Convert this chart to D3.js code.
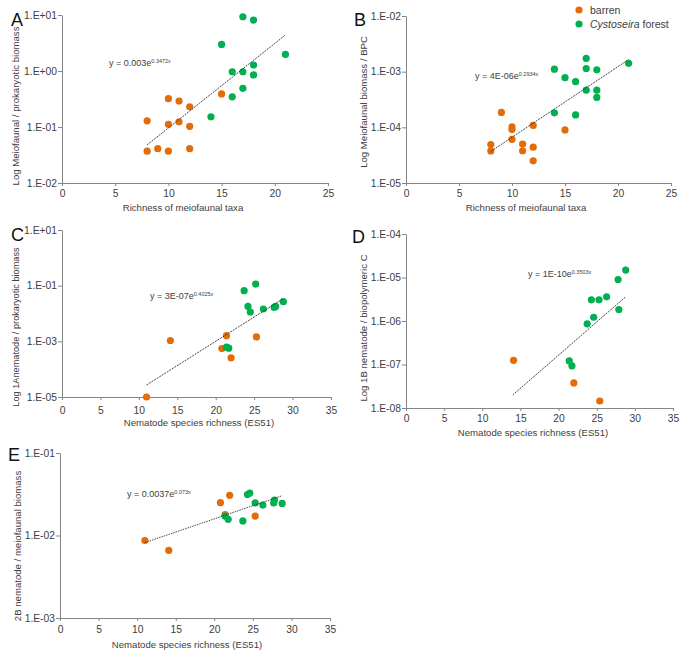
<!DOCTYPE html>
<html><head><meta charset="utf-8">
<script src="https://cdn.jsdelivr.net/npm/d3@7"></script>
<style>
body{margin:0;background:#fff;}
svg text{font-family:"Liberation Sans",Arial,sans-serif;fill:#404040;}
</style></head>
<body><svg id="c" width="685" height="652"></svg>
<script>
// ---------- DATA ----------
const seriesNames = ["barren", "Cystoseira forest"];

const xTicksAB = [0,5,10,15,20,25];
const xTicksCDE = [0,5,10,15,20,25,30,35];

const yTicksA = [10,1,0.1,0.01];
const yTicksB = [1e-2,1e-3,1e-4,1e-5];
const yTicksC = [10,0.1,1e-3,1e-5];
const yTicksD = [1e-4,1e-5,1e-6,1e-7,1e-8];
const yTicksE = [0.1,0.01,0.001];

const aBarrenX = [8,8,9,10,10,10,11,11,12,12,12,15];
const aBarrenY = [0.129,0.037,0.041,0.32,0.112,0.037,0.29,0.124,0.23,0.103,0.041,0.39];
const aForestX = [14,15,16,16,17,17,17,18,18,18,21];
const aForestY = [0.152,2.98,0.97,0.346,9.3,0.97,0.49,8.1,1.28,0.85,1.98];

const bBarrenX = [8,8,9,10,10,10,11,11,12,12,12,15];
const bBarrenY = [4.9e-5,3.77e-5,1.85e-4,1.02e-4,9.1e-5,6.1e-5,5.0e-5,3.8e-5,1.08e-4,4.4e-5,2.5e-5,9.0e-5];
const bForestX = [14,14,15,16,16,17,17,17,18,18,18,21];
const bForestY = [1.11e-3,1.82e-4,7.8e-4,6.6e-4,1.67e-4,1.73e-3,1.14e-3,4.66e-4,1.08e-3,4.66e-4,3.44e-4,1.41e-3];

const cBarrenX = [11,14.1,20.8,21.4,22,25.3];
const cBarrenY = [1e-5,1.07e-3,5.5e-4,1.6e-3,2.55e-4,1.44e-3];
const cForestX = [21.4,21.7,23.7,24.2,24.5,25.2,26.2,27.6,27.8,28.8];
const cForestY = [6.15e-4,5.7e-4,6.6e-2,1.8e-2,1.13e-2,0.114,1.45e-2,1.65e-2,1.8e-2,2.65e-2];

const dBarrenX = [14.1,22,25.4];
const dBarrenY = [1.25e-7,3.77e-8,1.45e-8];
const dForestX = [21.4,21.75,23.75,24.6,24.3,25.3,26.3,27.8,27.9,28.8];
const dForestY = [1.21e-7,9.3e-8,8.6e-7,1.22e-6,3.07e-6,3.07e-6,3.6e-6,9.0e-6,1.84e-6,1.48e-5];

const eBarrenX = [11,14.1,20.8,21.4,22,25.3];
const eBarrenY = [8.7e-3,6.6e-3,2.5e-2,1.79e-2,3.07e-2,1.72e-2];
const eForestX = [21.4,21.8,23.7,24.3,24.6,25.3,26.3,27.7,27.8,28.8];
const eForestY = [1.72e-2,1.57e-2,1.5e-2,3.13e-2,3.27e-2,2.48e-2,2.34e-2,2.48e-2,2.69e-2,2.45e-2];

// trend line end points (x0,x1) and (y0,y1)
const aTrendX = [8,21],   aTrendY = [0.048,4.4];
const bTrendX = [8,21],   bTrendY = [3.7e-5,1.65e-3];
const cTrendX = [11,28.7],dTrendX = [14,28.8], eTrendX = [11,28.8];
const cTrendY = [2.7e-5,3.3e-2], dTrendY = [2.0e-8,3.6e-6], eTrendY = [8.2e-3,3.04e-2];

const eqA = ["y = 0.003e","0.3472x"];
const eqB = ["y = 4E-06e","0.2934x"];
const eqC = ["y = 3E-07e","0.4025x"];
const eqD = ["y = 1E-10e","0.3503x"];
const eqE = ["y = 0.0037e","0.073x"];

const titlesX = ["Richness of meiofaunal taxa","Richness of meiofaunal taxa","Nematode species richness (ES51)","Nematode species richness (ES51)","Nematode species richness (ES51)"];
const titlesY = ["Log Meiofaunal / prokaryotic biomass","Log Meiofaunal biomass / BPC","Log 1Anematode / prokaryotic biomass","Log 1B nematode  / biopolymeric C","2B nematode / meiofaunal biomass"];
const letters = ["A","B","C","D","E"];

// ---------- LAYOUT ----------
const colors = ["#E36C0A","#00B050"];
const panels = [
 {L:letters[0], x0:62, x1:328, y0:15, y1:183, xd:[0,25], yd:[10,0.01], xt:xTicksAB, yt:yTicksA,
  bx:aBarrenX, by:aBarrenY, fx:aForestX, fy:aForestY, tx:aTrendX, ty:aTrendY, eq:eqA,
  eqPos:[109,66], letterPos:[11,26], ytPos:[16,106], xtPos:[183,211], tickBase:197, yfs:9.6},
 {L:letters[1], x0:406, x1:671, y0:16, y1:183, xd:[0,25], yd:[1e-2,1e-5], xt:xTicksAB, yt:yTicksB,
  bx:bBarrenX, by:bBarrenY, fx:bForestX, fy:bForestY, tx:bTrendX, ty:bTrendY, eq:eqB,
  eqPos:[475,79], letterPos:[354,26], ytPos:[364,102], xtPos:[526,211], tickBase:197, yfs:9.6},
 {L:letters[2], x0:62, x1:331, y0:230, y1:397, xd:[0,35], yd:[10,1e-5], xt:xTicksCDE, yt:yTicksC,
  bx:cBarrenX, by:cBarrenY, fx:cForestX, fy:cForestY, tx:cTrendX, ty:cTrendY, eq:eqC,
  eqPos:[150,299], letterPos:[11,241], ytPos:[16,327], xtPos:[199,426], tickBase:414, yfs:9.2},
 {L:letters[3], x0:406, x1:673, y0:234, y1:408, xd:[0,35], yd:[1e-4,1e-8], xt:xTicksCDE, yt:yTicksD,
  bx:dBarrenX, by:dBarrenY, fx:dForestX, fy:dForestY, tx:dTrendX, ty:dTrendY, eq:eqD,
  eqPos:[528,277], letterPos:[352,243], ytPos:[364,328], xtPos:[533,436], tickBase:422, yfs:9.6},
 {L:letters[4], x0:60, x1:330, y0:453, y1:618, xd:[0,35], yd:[0.1,0.001], xt:xTicksCDE, yt:yTicksE,
  bx:eBarrenX, by:eBarrenY, fx:eForestX, fy:eForestY, tx:eTrendX, ty:eTrendY, eq:eqE,
  eqPos:[127,497], letterPos:[8,461], ytPos:[18,546], xtPos:[187,648], tickBase:633, yfs:9.6}
];

const svg = d3.select("#c");
const fmtE = v => {
  const e = Math.round(Math.log10(v));
  const s = e < 0 ? "-" : "+";
  return "1.E" + s + String(Math.abs(e)).padStart(2,"0");
};

panels.forEach((p,i) => {
  const x = d3.scaleLinear().domain(p.xd).range([p.x0,p.x1]);
  const y = d3.scaleLog().domain(p.yd).range([p.y0,p.y1]);
  const g = svg.append("g");

  // y axis
  const ya = g.append("g").attr("transform",`translate(${p.x0},0)`)
    .call(d3.axisLeft(y).tickValues(p.yt).tickFormat(fmtE).tickSize(4).tickSizeOuter(0));
  ya.select(".domain").attr("stroke","#858585");
  ya.selectAll(".tick line").attr("stroke","#858585");
  ya.selectAll(".tick text").attr("font-size","10.3px").attr("fill","#404040").attr("x",-5);

  // x axis
  const xa = g.append("g").attr("transform",`translate(0,${p.y1})`)
    .call(d3.axisBottom(x).tickValues(p.xt).tickFormat(d3.format("d")).tickSize(3).tickSizeOuter(0));
  xa.select(".domain").attr("stroke","#858585");
  xa.selectAll(".tick line").attr("stroke","#858585");
  xa.selectAll(".tick text").attr("font-size","10.3px").attr("fill","#404040")
    .attr("y", p.tickBase - p.y1).attr("dy",0);

  // points
  const pts = [[p.bx,p.by,colors[0]],[p.fx,p.fy,colors[1]]];
  pts.forEach(([xs,ys,c]) => {
    g.append("g").selectAll("circle").data(xs.map((v,k)=>[v,ys[k]])).join("circle")
      .attr("cx",d=>x(d[0])).attr("cy",d=>y(d[1])).attr("r",3.6).attr("fill",c);
  });

  // trend line
  const line = d3.line().x(d=>x(d[0])).y(d=>y(d[1]));
  g.append("path").datum(p.tx.map((v,k)=>[v,p.ty[k]]))
    .attr("d",line).attr("fill","none").attr("stroke","#333")
    .attr("stroke-width",0.9).attr("stroke-dasharray", i===4 ? "1.5,1" : "2,1");

  // equation
  const eq = g.append("text").attr("x",p.eqPos[0]).attr("y",p.eqPos[1]).attr("font-size","9px");
  eq.append("tspan").text(p.eq[0]);
  eq.append("tspan").attr("dy",-3.5).attr("font-size","5.5px").text(p.eq[1]);

  // titles
  g.append("text").attr("x",p.xtPos[0]).attr("y",p.xtPos[1]).attr("text-anchor","middle")
    .attr("font-size","9.6px").text(titlesX[i]);
  g.append("text").attr("transform",`translate(${p.ytPos[0]},${p.ytPos[1]}) rotate(-90)`)
    .attr("text-anchor","middle").attr("dy","0.35em").attr("font-size",p.yfs+"px").text(titlesY[i]);

  // panel letter
  g.append("text").attr("x",p.letterPos[0]).attr("y",p.letterPos[1]).attr("font-size","18px")
    .style("fill","#111").text(p.L);
});

// legend
const leg = svg.append("g");
seriesNames.forEach((n,k) => {
  leg.append("circle").attr("cx",579).attr("cy",10+k*14).attr("r",3.6).attr("fill",colors[k]);
  const t = leg.append("text").attr("x",590).attr("y",14+k*14).attr("font-size","10.5px");
  if (k===1) {
    t.append("tspan").attr("font-style","italic").text("Cystoseira");
    t.append("tspan").text(" forest");
  } else t.text(n);
});
</script></body></html>
